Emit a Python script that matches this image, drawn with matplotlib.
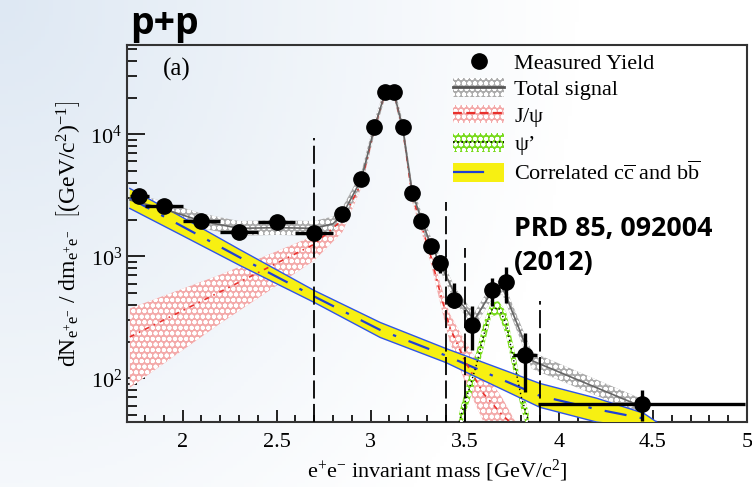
"""
p+p dielectron yield vs invariant mass (PRD 85, 092004) -- slide-style recreation.
"""
import numpy as np
import matplotlib
matplotlib.use("Agg")
import matplotlib.pyplot as plt
from matplotlib.patches import Patch
from matplotlib.lines import Line2D

# measured yield
mass = [1.77, 1.90, 2.10, 2.30, 2.50, 2.70, 2.85, 2.95, 3.02, 3.075, 3.125, 3.17,
        3.22, 3.27, 3.32, 3.37, 3.445, 3.54, 3.645, 3.72, 3.82, 4.44]
yield_ = [3100, 2570, 1940, 1600, 1900, 1550, 2240, 4270, 11400, 22100, 22100, 11400,
          3280, 1940, 1210, 877, 436, 272, 526, 612, 155, 62]
err_lo = [0, 0, 0, 0, 0, 0, 0, 0, 0, 0, 0, 0, 0, 0, 100, 150, 61, 102, 130, 200, 78, 17]
err_hi = [0, 0, 0, 0, 0, 0, 0, 0, 0, 0, 0, 0, 0, 0, 100, 150, 165, 124, 134, 201, 79, 18]
bin_hw = [0.05, 0.1, 0.1, 0.1, 0.1, 0.1, 0, 0, 0, 0, 0, 0, 0, 0, 0, 0, 0, 0, 0, 0, 0.065, 0.55]

# total signal
tot_x = [1.72, 1.9, 2.1, 2.3, 2.5, 2.7, 2.8, 2.85, 2.95, 3.02, 3.075, 3.125, 3.17, 3.22,
         3.27, 3.32, 3.37, 3.45, 3.55, 3.645, 3.7, 3.857, 4.45]
tot_y = [2900, 2450, 1950, 1700, 1720, 1700, 1850, 2200, 4270, 11400, 21500, 21500, 11400,
         3400, 1980, 1250, 870, 480, 300, 520, 560, 140, 58]
tot_hi = [3350, 2820, 2250, 1950, 1980, 1950, 2130, 2530, 4900, 13000, 24000, 24000, 13000,
          3900, 2280, 1440, 1000, 550, 345, 600, 645, 165, 67]
tot_lo = [2500, 2130, 1700, 1480, 1500, 1480, 1610, 1910, 3700, 10000, 19500, 19500, 10000,
          2950, 1720, 1090, 760, 420, 260, 450, 490, 120, 50]

# J/psi
jp_x = [1.72, 2.2, 2.7, 2.85, 2.95, 3.02, 3.075, 3.125, 3.17, 3.22, 3.27, 3.32, 3.37,
        3.42, 3.5, 3.6, 3.7, 3.77]
jp_y = [219, 513, 1259, 1995, 3981, 11220, 21380, 21380, 11220, 3162, 1778, 1000, 500,
        263, 140, 75, 50, 40]
jp_hi = [375, 708, 1480, 2290, 4365, 12300, 23000, 23000, 12300, 3548, 2000, 1150, 600,
         340, 204, 116, 69, 44]
jp_lo = [84, 282, 927, 1585, 3630, 10230, 19900, 19900, 10230, 2818, 1580, 870, 410,
         200, 95, 44, 35, 30]

# psi'
psi_x = [3.47, 3.52, 3.56, 3.60, 3.64, 3.68, 3.72, 3.76, 3.80, 3.84]
psi_y = [44, 79, 126, 224, 363, 380, 282, 141, 71, 44]
psi_hi = [52, 100, 160, 285, 420, 430, 350, 180, 90, 52]
psi_lo = [36, 62, 100, 178, 320, 335, 225, 112, 56, 36]

# correlated cc and bb
cc_x = [1.72, 2.0, 2.3, 2.7, 3.05, 3.4, 3.9, 4.2, 4.45, 4.52]
cc_y = [3000, 1760, 990, 470, 250, 154, 72, 56, 47, 44]
cc_hi = [3606, 2089, 1148, 526, 288, 176, 91, 69, 52, 44]
cc_lo = [2472, 1480, 851, 420, 217, 135, 58, 44, 40, 40]

# bin edges used for the fit (dashed lines) and their heights
cut_x = [2.7, 3.4, 3.5, 3.9]
cut_top = [9300, 2770, 1165, 435]

plt.rcParams["font.family"] = ["Liberation Serif", "DejaVu Serif"]
plt.rcParams["mathtext.fontset"] = "custom"
plt.rcParams["mathtext.rm"] = "Liberation Serif"
plt.rcParams["mathtext.it"] = "Liberation Serif:italic"
plt.rcParams["hatch.linewidth"] = 1.3

W, H = 752, 487
fig = plt.figure(figsize=(W / 100, H / 100), dpi=100)

# slide background: pale blue fading to white
bg = fig.add_axes([0, 0, 1, 1], zorder=-10)
gx, gy = np.meshgrid(np.linspace(0, 1, 200), np.linspace(0, 1, 130))
t = np.clip(1 - np.hypot(gx * 1.3, gy * 0.7) / 1.0, 0, 1)
base = np.array([222, 232, 243]) / 255
img = 1 - t[..., None] * (1 - base)
bg.imshow(img, extent=[0, 1, 0, 1], aspect="auto", origin="upper")
bg.axis("off")

ax = fig.add_axes([127 / W, 1 - 422 / H, 620 / W, 377 / H])
ax.set_facecolor("none")
ax.set_yscale("log")
ax.set_xlim(1.705, 5.0)
ax.set_ylim(44, 5.4e4)

PINK, GREY, GREEN, YEL = "#f3aaaa", "#ababab", "#78da1c", "#f7f012"
hatch = "ooo"

ax.fill_between(jp_x, jp_lo, jp_hi, facecolor=PINK, edgecolor="white",
                hatch=hatch, lw=0, zorder=2)
ax.fill_between(tot_x, tot_lo, tot_hi, facecolor=GREY, edgecolor="white",
                hatch=hatch, lw=0, zorder=3)
ax.fill_between(psi_x, psi_lo, psi_hi, facecolor=GREEN, edgecolor="white",
                hatch=hatch, lw=0, zorder=4)
ax.fill_between(cc_x, cc_lo, cc_hi, facecolor=YEL, edgecolor="none", zorder=5)
ax.plot(cc_x, cc_hi, color="#2f55e8", lw=1.0, zorder=6)
ax.plot(cc_x, cc_lo, color="#2f55e8", lw=1.0, zorder=6)
ax.plot(cc_x, cc_y, color="#1e3fd6", lw=1.6, ls=(0, (10, 6, 1.5, 6)), zorder=6)
ax.plot(jp_x, jp_y, color="#e8302c", lw=1.2, ls=(0, (3, 3, 1, 3)), zorder=6)
ax.plot(tot_x, tot_y, color="#666666", lw=1.2, zorder=6)
ax.plot(psi_x, psi_y, color="black", lw=1.0, ls=(0, (1, 2)), zorder=6)

ax.vlines(cut_x, 44, cut_top, colors="black", lw=1.3, linestyles=(0, (10, 3)), zorder=7)

ax.errorbar(mass, yield_, yerr=[err_lo, err_hi], xerr=bin_hw, fmt="o", color="black",
            ms=11, elinewidth=2.4, capsize=0, zorder=10)

for s in ax.spines.values():
    s.set_linewidth(1.5)
    s.set_color("#333333")
ax.tick_params(axis="both", which="both", direction="in", top=False, right=False,
               width=1.4, color="#222222", labelsize=16)
ax.tick_params(axis="y", which="major", length=13)
ax.tick_params(axis="y", which="minor", length=7)
ax.tick_params(axis="x", which="major", length=9, pad=8)
ax.tick_params(axis="x", which="minor", length=5)
ax.set_xticks([2, 2.5, 3, 3.5, 4, 4.5, 5])
ax.set_xticklabels(["2", "2.5", "3", "3.5", "4", "4.5", "5"])
ax.set_xticks(np.arange(1.8, 5.0, 0.1), minor=True)

ax.set_xlabel(r"e$^{+}$e$^{-}$ invariant mass [GeV/c$^{2}$]", fontsize=16, labelpad=4)
ax.set_ylabel(r"dN$_{\mathrm{e^{+}e^{-}}}$ / dm$_{\mathrm{e^{+}e^{-}}}$  "
              r"$\left[\mathrm{(GeV/c^{2})^{-1}}\right]$",
              fontsize=17, labelpad=6)

ax.text(0.058, 0.934, "(a)", transform=ax.transAxes, fontsize=18, va="center")

handles = [
    Line2D([], [], marker="o", color="black", ls="none", ms=11),
    (Patch(facecolor=GREY, edgecolor="white", hatch=hatch, lw=0),
     Line2D([], [], color="#555555", lw=2)),
    (Patch(facecolor=PINK, edgecolor="white", hatch=hatch, lw=0),
     Line2D([], [], color="#e8302c", lw=1.6, ls=(0, (4, 2)))),
    (Patch(facecolor=GREEN, edgecolor="white", hatch=hatch, lw=0),
     Line2D([], [], color="black", lw=1.2, ls=(0, (1, 1.5)))),
    (Patch(facecolor=YEL, edgecolor="none"),
     Line2D([], [], color="#1e3fd6", lw=1.6, ls=(0, (14, 10, 1.5, 6)))),
]
labels = ["Measured Yield", "Total signal", r"J/$\mathrm{\psi}$", r"$\mathrm{\psi}$’",
          r"Correlated c$\overline{\mathrm{c}}$ and b$\overline{\mathrm{b}}$"]
fig.legend(handles, labels, loc="upper left", bbox_to_anchor=(442 / W, 1 - 41 / H),
           frameon=False, fontsize=16, handlelength=2.3, handleheight=0.9,
           handletextpad=0.45, labelspacing=0.2, borderpad=0)

fig.text(130 / W, 1 - 34 / H, "p+p", family="Open Sans", weight="bold", fontsize=27,
         va="baseline")
fig.text(514 / W, 1 - 236 / H, "PRD 85, 092004", family="Open Sans", weight="bold",
         fontsize=19.3, va="baseline")
fig.text(514 / W, 1 - 270 / H, "(2012)", family="Open Sans", weight="bold",
         fontsize=19.3, va="baseline")

fig.savefig("out.png", dpi=100)
